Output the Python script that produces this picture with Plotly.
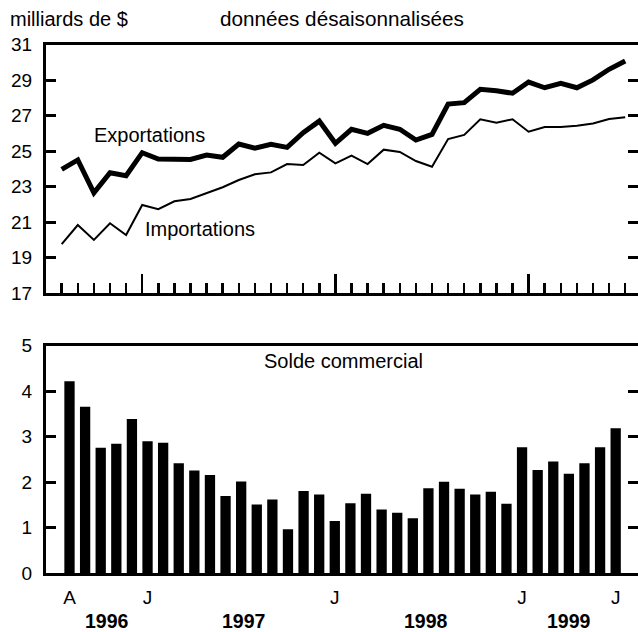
import plotly.graph_objects as go

# ---- data (Aug 1996 .. Jul 1999, monthly) ----
months = list(range(36))
exports = [23.98, 24.51, 22.66, 23.79, 23.62, 24.92, 24.56, 24.56, 24.54, 24.79,
           24.66, 25.41, 25.17, 25.39, 25.22, 26.05, 26.70, 25.45, 26.24, 26.01,
           26.46, 26.24, 25.63, 25.95, 27.66, 27.74, 28.49, 28.41, 28.27, 28.90,
           28.58, 28.83, 28.58, 29.02, 29.62, 30.09]
imports = [19.77, 20.84, 20.00, 20.94, 20.28, 21.97, 21.73, 22.18, 22.31, 22.63,
           22.97, 23.38, 23.70, 23.81, 24.28, 24.22, 24.92, 24.32, 24.75, 24.28,
           25.09, 24.96, 24.45, 24.13, 25.69, 25.92, 26.80, 26.61, 26.80, 26.10,
           26.37, 26.37, 26.44, 26.57, 26.82, 26.91]
balance = [4.22, 3.66, 2.76, 2.85, 3.39, 2.90, 2.87, 2.42, 2.26, 2.16,
           1.70, 2.02, 1.51, 1.62, 0.97, 1.81, 1.73, 1.15, 1.54, 1.75,
           1.40, 1.33, 1.21, 1.87, 2.01, 1.86, 1.73, 1.79, 1.53, 2.77,
           2.27, 2.46, 2.19, 2.42, 2.77, 3.19]
month_tick_idx = [0, 5, 17, 29, 35]
month_tick_text = ["A", "J", "J", "J", "J"]
january_idx = [5, 17, 29]
years = ["1996", "1997", "1998", "1999"]
year_label_x = [2.43, 11.14, 22.83, 32.02]
top_ticks = [17, 19, 21, 23, 25, 27, 29, 31]
bottom_ticks = [0, 1, 2, 3, 4, 5]

FONT = "Liberation Sans, Arial, Helvetica, sans-serif"
BLACK = "black"
W, H, ML = 638, 632, 46

fig = go.Figure()
fig.add_trace(go.Scatter(x=months, y=exports, mode="lines",
                         line=dict(color=BLACK, width=5), xaxis="x", yaxis="y",
                         hoverinfo="skip"))
fig.add_trace(go.Scatter(x=months, y=imports, mode="lines",
                         line=dict(color=BLACK, width=2), xaxis="x", yaxis="y",
                         hoverinfo="skip"))
fig.add_trace(go.Bar(x=months, y=balance, width=0.66,
                     marker=dict(color=BLACK, line=dict(width=0)),
                     xaxis="x2", yaxis="y2", hoverinfo="skip"))

# y axes: left line + inside ticks, mirrored ticks on the right (the mirrored
# line falls just outside the visible page, as in the reference)
common_y = dict(showgrid=False, zeroline=False, ticks="inside", ticklen=10,
                tickwidth=3, tickcolor=BLACK, showline=True, linecolor=BLACK,
                linewidth=3, mirror="ticks", automargin=False,
                ticklabelstandoff=7,
                tickfont=dict(family=FONT, size=19, color=BLACK))

fig.update_layout(
    width=W, height=H,
    margin=dict(l=ML, r=0, t=0, b=0, pad=0),
    paper_bgcolor="white", plot_bgcolor="white",
    showlegend=False,
    font=dict(family=FONT, color=BLACK),
    xaxis=dict(domain=[0, 1], anchor="y", range=[-0.975, 35.795],
               automargin=False,
               showgrid=False, zeroline=False, showline=True, linecolor=BLACK,
               linewidth=3, mirror=True, ticks="inside", tickmode="array",
               tickvals=january_idx, ticklen=19, tickwidth=2.5, tickcolor=BLACK,
               showticklabels=False,
               minor=dict(ticks="inside", tickmode="array", tickvals=months,
                          ticklen=10, tickwidth=2.5, tickcolor=BLACK,
                          showgrid=False)),
    yaxis=dict(domain=[0.5361, 0.9291], anchor="x", range=[17, 31],
               tickmode="array", tickvals=top_ticks, **common_y),
    xaxis2=dict(domain=[0, 1], anchor="y2", range=[-1.506, 36.43],
                automargin=False, ticklabelstandoff=5,
                showgrid=False, zeroline=False, showline=True, linecolor=BLACK,
                linewidth=3, mirror=True, ticks="", tickmode="array",
                tickvals=month_tick_idx, ticktext=month_tick_text,
                tickfont=dict(family=FONT, size=19, color=BLACK)),
    yaxis2=dict(domain=[0.0929, 0.4528], anchor="x2", range=[0, 5],
                tickmode="array", tickvals=bottom_ticks, **common_y),
)

def px_to_paper_x(px):
    return (px - ML) / (W - ML)

def px_to_paper_y(py):
    return 1 - py / H

ann = []
ann.append(dict(text="milliards de $", xref="paper", yref="paper",
                x=px_to_paper_x(8), y=px_to_paper_y(18.7), showarrow=False,
                xanchor="left", yanchor="middle",
                font=dict(family=FONT, size=20, color=BLACK)))
ann.append(dict(text="données désaisonnalisées", xref="paper", yref="paper",
                x=px_to_paper_x(218), y=px_to_paper_y(18.5), showarrow=False,
                xanchor="left", yanchor="middle",
                font=dict(family=FONT, size=20.7, color=BLACK)))
ann.append(dict(text="Exportations", xref="x", yref="y", x=5.46, y=25.94,
                showarrow=False, xanchor="center", yanchor="middle",
                font=dict(family=FONT, size=20, color=BLACK)))
ann.append(dict(text="Importations", xref="x", yref="y", x=8.59, y=20.62,
                showarrow=False, xanchor="center", yanchor="middle",
                font=dict(family=FONT, size=20, color=BLACK)))
ann.append(dict(text="Solde commercial", xref="x2", yref="y2", x=17.56, y=4.67,
                showarrow=False, xanchor="center", yanchor="middle",
                font=dict(family=FONT, size=20, color=BLACK)))
for yr, xp in zip(years, year_label_x):
    ann.append(dict(text="<b>" + yr + "</b>", xref="x2", yref="paper", x=xp,
                    y=px_to_paper_y(621), showarrow=False, xanchor="center",
                    yanchor="middle",
                    font=dict(family=FONT, size=19.5, color=BLACK)))
fig.update_layout(annotations=ann)

fig.write_html(
    "out.html",
    config={"displayModeBar": False, "staticPlot": True},
    post_script="document.body.style.margin='0';document.body.style.padding='0';"
                "document.documentElement.style.overflow='hidden';",
)
